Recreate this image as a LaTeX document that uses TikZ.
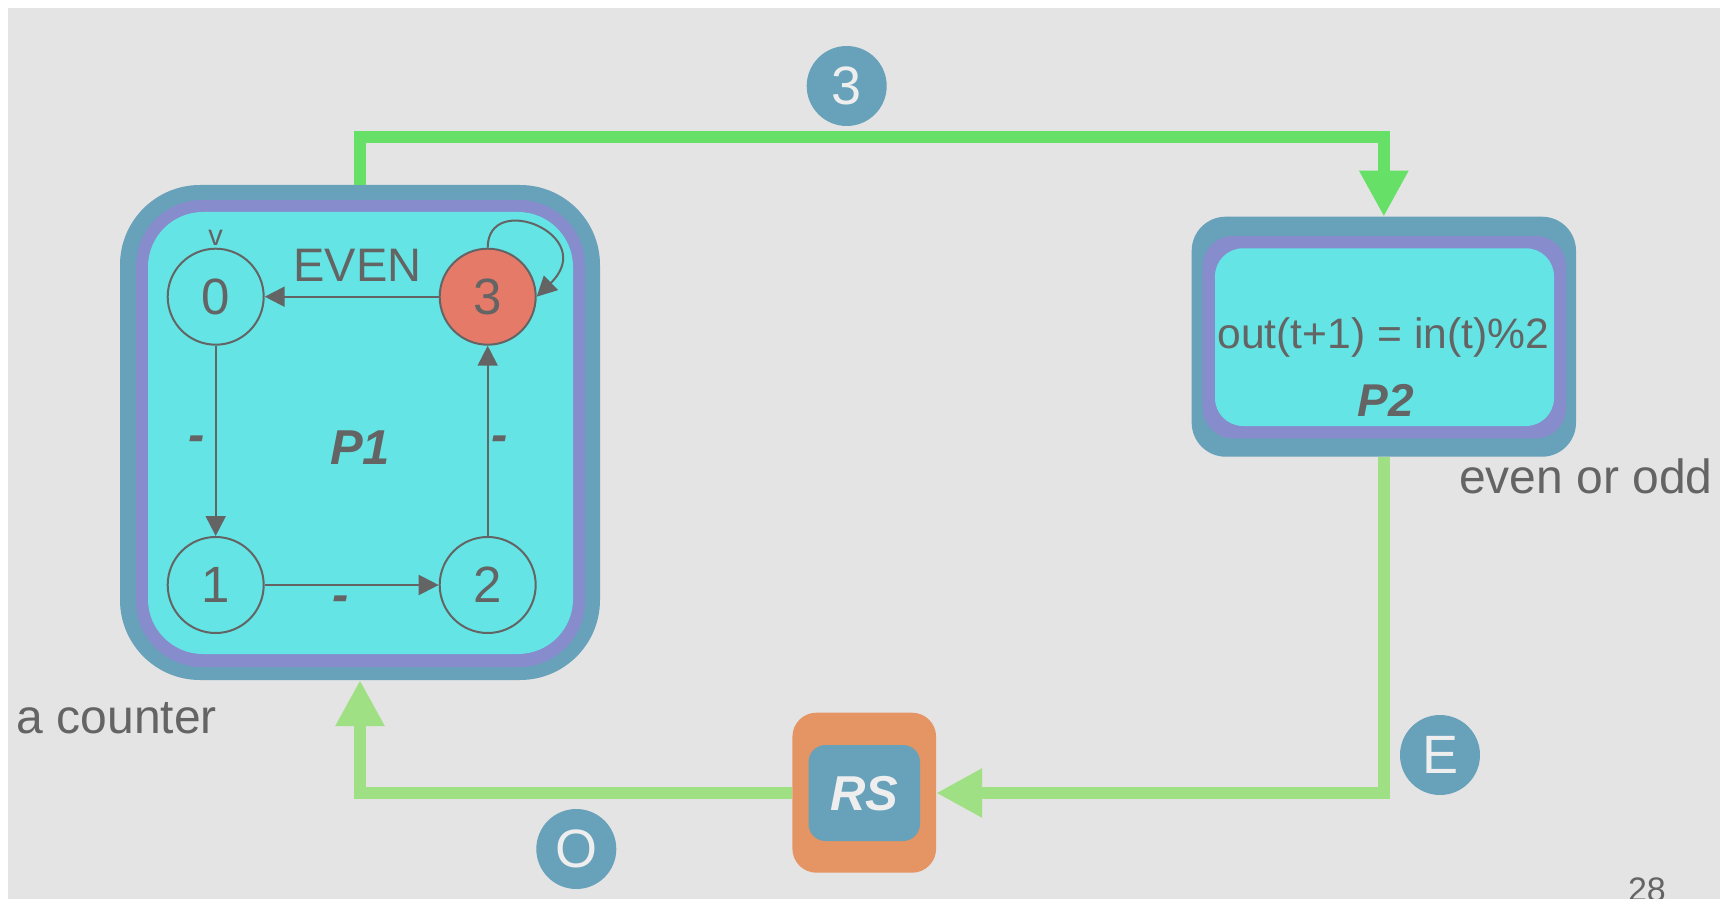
\documentclass[tikz,border=0pt]{standalone}
\usepackage{fontspec}
\setmainfont{Liberation Sans}
\usetikzlibrary{arrows.meta}
\definecolor{bggray}{HTML}{E4E4E4}
\definecolor{frame}{HTML}{67A1BA}
\definecolor{ring}{HTML}{868CCC}
\definecolor{core}{HTML}{64E4E4}
\definecolor{ink}{HTML}{646464}
\definecolor{hot}{HTML}{E57A68}
\definecolor{wire}{HTML}{66E066}
\definecolor{wirelight}{HTML}{A0E084}
\definecolor{buffer}{HTML}{E59463}
\definecolor{badgetext}{HTML}{EEEEEE}
\newcommand\fsz[1]{\fontsize{#1}{#1}\selectfont}
\begin{document}
\begin{tikzpicture}[x=0.5pt,y=-0.5pt,
  slab/.style={rectangle, inner sep=0pt, outer sep=0pt},
  fsm/.style={circle, draw=ink, line width=1pt, fill=core, minimum size=48pt,
    inner sep=0pt, font=\fsz{25.5pt}, text=ink},
  trans/.style={draw=ink, line width=1pt, -{Triangle[length=10pt,width=10pt]}},
  badge/.style={circle, fill=frame, minimum size=40pt, inner sep=0pt,
    text=badgetext, font=\fsz{27pt}},
  wireA/.style={draw=wire, line width=6pt, -{Triangle[length=23pt,width=23pt]}},
  wireB/.style={draw=wirelight, line width=6pt, -{Triangle[length=23pt,width=23pt]}},
  txt/.style={text=ink, inner sep=0pt, outer sep=0pt},
]
% canvas
\useasboundingbox (0,0) rectangle (1726,899);
\fill[white] (0,0) rectangle (1726,899);
\fill[bggray] (8,8) rectangle (1720,899);

% process P1: the counter
\node[slab, fill=frame, minimum width=240pt, minimum height=247.5pt, rounded corners=40pt] (p1) at (360,432.5) {};
\node[slab, fill=ring, minimum width=224.5pt, minimum height=233.5pt, rounded corners=33pt] (p1ring) at (360.5,433.5) {};
\node[slab, fill=core, minimum width=212.5pt, minimum height=221pt, rounded corners=27.5pt] (p1core) at (360.5,433) {};

% process P2: parity
\node[slab, fill=frame, minimum width=192.15pt, minimum height=120pt, rounded corners=17pt] (p2) at (1383.85,336.7) {};
\node[slab, fill=ring, minimum width=181.65pt, minimum height=101.15pt, rounded corners=15pt] (p2ring) at (1384.35,337.15) {};
\node[slab, fill=core, minimum width=169.5pt, minimum height=88.85pt, rounded corners=14pt] (p2core) at (1384.5,337.15) {};

% register slice
\node[slab, fill=buffer, minimum width=71.85pt, minimum height=80pt, rounded corners=12pt] (rs) at (864.25,792.7) {};
\node[slab, fill=frame, minimum width=55.75pt, minimum height=48pt, rounded corners=8.5pt] (rsin) at (864.25,793) {};

% channels between the processes
\coordinate (c1) at (360,137);
\coordinate (c2) at (p2.north |- c1);
\draw[wireA] (p1.north) -- (c1) -- (c2) -- (p2.north);
\coordinate (c3) at (p2.south |- 0,793);
\draw[wireB] (p2.south) -- (c3) -- (rs.east |- c3);
\coordinate (c4) at (p1.south |- c3);
\draw[wireB] (rs.west |- c3) -- (c4) -- (p1.south);

% channel contents
\node[badge] (b3) at (846.7,86) {3};
\node[badge] (bE) at (1440,755) {E};
\node[badge] (bO) at (576.3,849) {O};

% states of the counter
\node[fsm] (s0) at (215.7,296.7) {0};
\node[fsm, fill=hot] (s3) at (487.7,296.7) {3};
\node[fsm] (s1) at (215.7,585) {1};
\node[fsm] (s2) at (487.7,585) {2};

\draw[trans] (s0) -- (s1);
\draw[trans] (s1) -- (s2);
\draw[trans] (s2) -- (s3);
\draw[trans] (s3) -- (s0);
\draw[trans] (s3.north) .. controls (487.7,190) and (600,235) .. (s3.east);

\node[txt, anchor=base, font=\fsz{14.5pt}] (init) at (215.7,245) {v};
\node[txt, anchor=base, font=\fsz{23.5pt}] (even) at (357.5,281.7) {EVEN};
\node[txt, anchor=base, font=\fsz{24.5pt}\bfseries\itshape] (l01) at (196.7,451) {-};
\node[txt, anchor=base, font=\fsz{24.5pt}\bfseries\itshape] (l23) at (500,451) {-};
\node[txt, anchor=base, font=\fsz{24.5pt}\bfseries\itshape] (l12) at (340.7,611) {-};
\node[txt, anchor=base, font=\fsz{24.5pt}\bfseries\itshape] (p1name) at (360,464) {P1};

% P2 contents
\node[txt, anchor=base, font=\fsz{21.3pt}] (rule) at (1383.3,348.3) {out(t+1) = in(t)\%2};
\node[txt, anchor=base, font=\fsz{23pt}\bfseries\itshape] (p2name) at (1386,416.7) {P2};

% register label
\node[txt, anchor=base, text=badgetext, font=\fsz{24.5pt}\bfseries\itshape] (rsname) at (864.2,810) {RS};

% captions
\node[txt, anchor=base west, font=\fsz{24pt}] (cap1) at (16.7,733.3) {a counter};
\node[txt, anchor=base west, font=\fsz{24pt}] (cap2) at (1459,493.3) {even or odd};
\node[txt, anchor=base west, font=\fsz{17pt}] (page) at (1628,901) {28};
\end{tikzpicture}
\end{document}
